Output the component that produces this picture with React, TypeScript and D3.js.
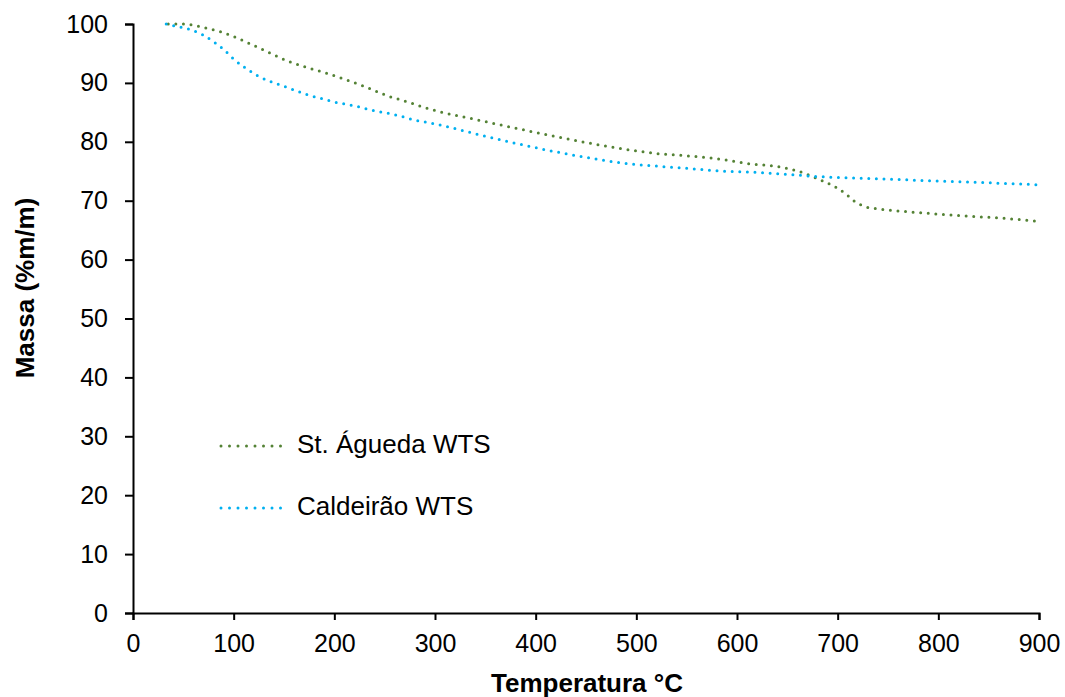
import React, { useEffect, useRef } from 'react';
import * as d3 from 'd3';

// St. Águeda WTS
const aguedaTemp = [35, 50, 70, 90, 113, 137, 154, 173, 193, 212, 230, 253, 272, 292, 351, 417, 483, 521, 552, 581, 611, 640, 661, 675, 687, 697, 707, 716, 727, 741, 764, 794, 826, 857, 900];
const aguedaMass = [100, 100, 99.4, 98.5, 96.9, 95.0, 93.7, 92.6, 91.6, 90.5, 89.4, 87.8, 86.8, 85.7, 83.4, 81.0, 78.9, 78.0, 77.6, 77.1, 76.3, 75.8, 75.0, 74.1, 73.2, 72.4, 71.3, 70.0, 69.0, 68.6, 68.2, 67.8, 67.4, 67.1, 66.5];

// Caldeirão WTS
const caldeiraoTemp = [33, 46, 58, 70, 80, 90, 101, 112, 123, 134, 147, 160, 173, 186, 199, 220, 239, 260, 280, 301, 351, 417, 466, 496, 526, 557, 588, 619, 649, 680, 711, 744, 775, 807, 840, 871, 900];
const caldeiraoMass = [100, 99.5, 99.0, 98.1, 97.0, 95.7, 93.9, 92.5, 91.3, 90.4, 89.6, 88.8, 88.0, 87.4, 86.8, 86.1, 85.3, 84.6, 83.7, 83.0, 80.9, 78.4, 76.9, 76.2, 75.8, 75.4, 75.0, 74.8, 74.5, 74.1, 73.9, 73.7, 73.5, 73.3, 73.1, 72.9, 72.7];

const xTicks = [0, 100, 200, 300, 400, 500, 600, 700, 800, 900];
const yTicks = [0, 10, 20, 30, 40, 50, 60, 70, 80, 90, 100];

const seriesNames = ['St. Águeda WTS', 'Caldeirão WTS'];
const seriesColors = ['#548235', '#00b0f0'];

const W = 1065;
const H = 697;
const margin = { top: 24, right: 26, bottom: 84, left: 133 };
const FONT = "'Liberation Sans', Arial, sans-serif";

export default function App() {
  const ref = useRef<SVGSVGElement>(null);

  useEffect(() => {
    const svg = d3.select(ref.current);
    svg.selectAll('*').remove();

    const width = W - margin.left - margin.right;
    const height = H - margin.top - margin.bottom;

    const x = d3.scaleLinear().domain([0, 900]).range([0, width]);
    const y = d3.scaleLinear().domain([0, 100]).range([height, 0]);

    const g = svg.append('g').attr('transform', `translate(${margin.left},${margin.top})`);

    const xAxis = g.append('g')
      .attr('transform', `translate(0,${height})`)
      .call(d3.axisBottom(x).tickValues(xTicks).tickSize(7).tickPadding(14).tickFormat(d3.format('d')));
    const yAxis = g.append('g')
      .call(d3.axisLeft(y).tickValues(yTicks).tickSize(8).tickPadding(17).tickFormat(d3.format('d')));

    [xAxis, yAxis].forEach(a => {
      a.select('.domain').attr('stroke', '#000').attr('stroke-width', 2);
      a.selectAll('.tick line').attr('stroke', '#000').attr('stroke-width', 2);
      a.selectAll('.tick text')
        .attr('fill', '#000')
        .style('font-family', FONT)
        .style('font-size', '25px');
    });

    const line = d3.line<[number, number]>()
      .x(d => x(d[0]))
      .y(d => y(d[1]))
      .curve(d3.curveMonotoneX);

    const series = [
      d3.zip(aguedaTemp, aguedaMass) as [number, number][],
      d3.zip(caldeiraoTemp, caldeiraoMass) as [number, number][],
    ];

    series.forEach((pts, i) => {
      g.append('path')
        .datum(pts)
        .attr('d', line)
        .attr('fill', 'none')
        .attr('stroke', seriesColors[i])
        .attr('stroke-width', 3)
        .attr('stroke-linecap', 'round')
        .attr('stroke-dasharray', '0 7.6');
    });

    // legend
    const legend = svg.append('g');
    seriesNames.forEach((name, i) => {
      const ly = 446 + i * 62;
      legend.append('line')
        .attr('x1', 221).attr('x2', 289)
        .attr('y1', ly).attr('y2', ly)
        .attr('stroke', seriesColors[i])
        .attr('stroke-width', 3)
        .attr('stroke-linecap', 'round')
        .attr('stroke-dasharray', '0 8.5');
      legend.append('text')
        .attr('x', 297).attr('y', ly + 7)
        .style('font-family', FONT)
        .style('font-size', '26px')
        .attr('fill', '#000')
        .text(name);
    });

    svg.append('text')
      .attr('x', 587)
      .attr('y', 692)
      .attr('text-anchor', 'middle')
      .style('font-family', FONT)
      .style('font-size', '26px')
      .style('font-weight', 'bold')
      .text('Temperatura °C');

    svg.append('text')
      .attr('transform', `translate(34,288) rotate(-90)`)
      .attr('text-anchor', 'middle')
      .style('font-family', FONT)
      .style('font-size', '26px')
      .style('font-weight', 'bold')
      .text('Massa (%m/m)');
  }, []);

  return (
    <svg
      ref={ref}
      width={W}
      height={H}
      style={{ position: 'absolute', left: 0, top: 0, background: '#fff' }}
    />
  );
}
